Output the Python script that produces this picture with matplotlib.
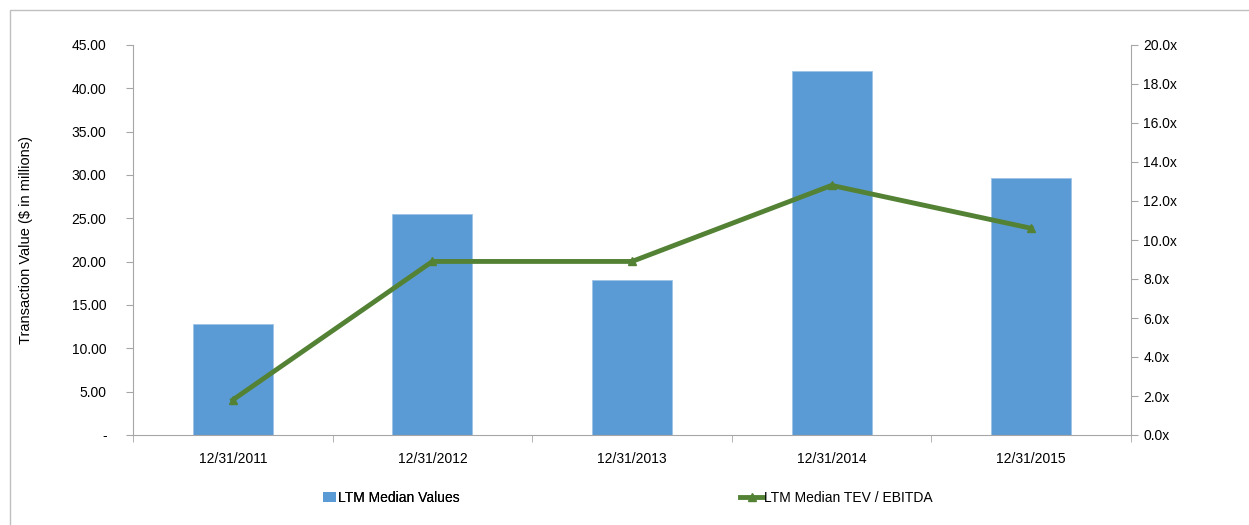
import matplotlib
matplotlib.use("Agg")
import matplotlib.pyplot as plt
from matplotlib import font_manager
from matplotlib.lines import Line2D
from matplotlib.patches import Patch, Rectangle
from matplotlib.ticker import FuncFormatter, FixedLocator

categories = ["12/31/2011", "12/31/2012", "12/31/2013", "12/31/2014", "12/31/2015"]
median_values = [12.8, 25.5, 17.9, 42.0, 29.6]
tev_ebitda = [1.8, 8.9, 8.9, 12.8, 10.6]

names = {f.name for f in font_manager.fontManager.ttflist}
fam = "Liberation Sans Narrow" if "Liberation Sans Narrow" in names else "Liberation Sans"
plt.rcParams["font.family"] = [fam, "DejaVu Sans"]
plt.rcParams["font.size"] = 10

W, H = 1249, 525
fig = plt.figure(figsize=(W / 100, H / 100), dpi=100)
fig.patch.set_facecolor("white")

# outer frame (partly outside image)
fig.add_artist(Rectangle((10 / W, -0.1), 1.2, (H - 10) / H + 0.1, transform=fig.transFigure,
                         fill=False, edgecolor="#BFBFBF", linewidth=1.0))

ax = fig.add_axes([133 / W, (H - 435) / H, (1131 - 133) / W, 390 / H])
x = list(range(len(categories)))
ax.bar(x, median_values, width=0.4, color="#5B9BD5", edgecolor="#9DC3E6", linewidth=0.6, zorder=2)
ax.set_xlim(-0.5, len(categories) - 0.5)
ax.set_ylim(0, 45)
ax.set_yticks([i * 5 for i in range(10)])
ax.yaxis.set_major_formatter(FuncFormatter(lambda v, p: "-" if v == 0 else f"{v:.2f}"))
ax.set_xticks(x)
ax.set_xticklabels(categories)
ax.xaxis.set_minor_locator(FixedLocator([i - 0.5 for i in range(len(categories) + 1)]))
ax.tick_params(axis="x", which="major", length=0, pad=12)
ax.tick_params(axis="x", which="minor", length=5, color="#A6A6A6", direction="out")
ax.tick_params(axis="y", length=5, color="#A6A6A6", direction="out", pad=14)
ax.set_ylabel("Transaction Value ($ in millions)", labelpad=28, fontsize=10.5)
for s in ["top", "right"]:
    ax.spines[s].set_visible(False)
for s in ["left", "bottom"]:
    ax.spines[s].set_color("#A6A6A6")

ax2 = ax.twinx()
ax2.plot(x, tev_ebitda, color="#548235", linewidth=3.5, marker="^", markersize=6, zorder=3)
ax2.set_ylim(0, 20)
ax2.set_yticks([i * 2 for i in range(11)])
ax2.yaxis.set_major_formatter(FuncFormatter(lambda v, p: f"{v:.1f}x"))
ax2.tick_params(axis="y", length=5, color="#A6A6A6", direction="out", pad=4)
for s in ["top", "left", "bottom"]:
    ax2.spines[s].set_visible(False)
ax2.spines["right"].set_color("#A6A6A6")

fig.text(1246 / W, (H - 232) / H, "TEV / EBITDA", rotation=270, ha="left", va="center")

leg1 = fig.legend(handles=[Patch(facecolor="#5B9BD5", edgecolor="none")], labels=["LTM Median Values"],
                  loc="center left", bbox_to_anchor=(310 / W, (H - 498) / H), frameon=False,
                  handlelength=1.0, handleheight=0.8, handletextpad=0.15, fontsize=10)
leg2 = fig.legend(handles=[Line2D([], [], color="#548235", linewidth=3.5, marker="^", markersize=6)],
                  labels=["LTM Median TEV / EBITDA"],
                  loc="center left", bbox_to_anchor=(728 / W, (H - 498) / H), frameon=False,
                  handlelength=1.6, handletextpad=0.1, fontsize=10)
fig.add_artist(leg1)

fig.savefig("out.png", dpi=100)
